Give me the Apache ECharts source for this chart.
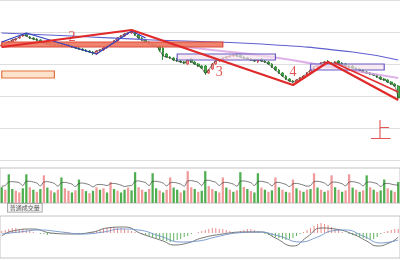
<!DOCTYPE html>
<html><head><meta charset="utf-8">
<script src="https://cdn.jsdelivr.net/npm/echarts@6.0.0/dist/echarts.min.js"></script>
<style>html,body{margin:0;padding:0;background:#fff}#c{width:400px;height:260px}</style>
</head><body><div id="c"></div>
<script>
// ---- price data (arbitrary units) ----
const openP = [114,115,116,118,120,122,124,126,123,122, 121,120,118,117,116,114,117,115,114,116,
 114,113,112,111,110,109,108,106,109,110, 112,114,116,119,122,124,126,127,129,125,
 122,120,118,116,115,114,112,106,103,102, 101,99,98,96,101,98,96,94,94,87,
 91,96,99,100,102,103,104,106,105,103, 102,101,100,98,101,99,98,96,93,90,
 87,84,81,79,77,80,82,84,87,90, 93,95,97,99,97,95,99,97,96,94,
 94,92,91,90,88,87,86,85,83,81, 80,78,76,74];
const closeP = [115,116,118,120,121,123,125,124,122,121, 120,118,117,116,115,116,115,114,115,114,
 113,112,111,110,109,108,107,109,110,112, 114,116,119,122,124,126,127,128,125,122,
 120,118,116,115,114,110,104,103,102,100, 99,98,97,100,98,96,94,92,87,90,
 96,99,100,102,103,104,105,104,103,102, 101,100,99,100,99,98,96,93,90,87,
 84,81,79,78,80,82,84,87,90,93, 95,97,98,97,96,98,97,95,94,93,
 92,91,90,88,87,86,85,83,81,80, 78,76,74,62];
const highP = [116,117,119,121,122,124,126,127,124,123, 122,121,119,118,117,117,118,116,116,117,
 115,114,113,112,111,110,109,110,111,113, 115,117,120,123,125,127,128,130,130,126,
 123,121,119,117,116,115,114,107,104,103, 102,100,99,101,102,99,97,95,95,91,
 97,100,101,103,104,105,106,107,106,104, 103,102,101,101,102,100,99,97,94,91,
 88,85,82,80,81,83,85,88,91,94, 96,98,99,100,98,99,100,98,97,95,
 95,93,92,91,89,88,87,86,84,82, 81,79,77,75];
const lowP = [113,114,115,117,119,121,123,123,121,120, 119,117,116,115,114,113,114,113,113,113,
 112,111,110,109,108,107,105,105,108,109, 111,113,115,118,121,123,125,126,124,121,
 119,117,115,114,113,108,100,102,101,99, 98,97,96,95,97,95,93,91,85,86,
 90,95,98,99,101,102,103,103,102,101, 100,99,98,97,98,97,95,92,89,86,
 83,80,78,77,76,79,81,83,86,89, 92,94,96,96,95,94,96,94,93,92,
 91,90,89,87,86,85,84,82,80,79, 77,75,73,60];
const categories = openP.map((_, i) => 'D' + (i + 1));

// moving-average lines as [barIndex, value] points
const maLong = [[0,127],[20,124],[43,120],[74,116],[100,108],[113,100]];
const maMid = [[40,118],[60,110],[77,103],[94,93],[113,82]];

// hand-drawn annotations (data coordinates)
const blueZigzag = [[0,118],[7,127],[27,106],[37,129],[41,122]];
const redTrend = [[0,113],[37,130],[83,75],[93,98],[113,60]];
const redTrend2 = [[95,97],[113,68]];
const salmonBand = [[0,118],[63,113]];
const orangeBox = [[0,89],[15,82]];
const purpleBoxes = [[[50,106],[78,100]], [[88,96],[109,90]]];
const noteText = ['2','3','4','上'];
const noteX = [20,62,83,108];
const noteY = [123,88,88,30];

// ---- volume ----
const volume = [45,38,82,40,35,30,42,82,45,38, 32,40,79,44,36,30,38,73,42,35,
 30,36,67,40,34,28,35,45,38,42, 30,60,40,35,30,38,44,36,88,45,
 38,32,40,85,42,36,30,38,73,44, 38,30,36,91,45,40,32,35,91,48,
 40,34,30,73,44,38,32,36,88,46, 40,34,30,85,44,38,32,36,73,45,
 38,32,30,67,42,36,32,38,40,85, 44,38,32,36,79,45,38,32,36,82,
 44,38,32,36,79,45,38,32,36,67, 42,36,32,60];
const volSide = ("grggrrggrg"+"rgrgrgrgrr"+"grgrgrgrgr"+"grgrggrggr"+"rgrggrgrrg"+
 "grgrrgrggr"+"rgrrgrgrgr"+"grggrgrgrg"+"rgrrgrgrgr"+"grgrrgrgrr"+"grgrgrgrgg"+"rgrg").split('');
const volMa = [48,50,60,61,60,58,50,62,62,60, 57,49,60,61,59,56,48,58,59,57,
 54,47,56,57,55,52,46,52,53,52, 50,55,56,54,51,47,49,50,62,63,
 61,58,50,62,62,60,57,49,58,59, 57,54,48,63,64,62,59,50,64,65,
 62,59,50,58,59,57,54,48,62,63, 61,58,50,61,62,60,57,49,58,59,
 56,53,47,55,56,54,51,48,50,61, 62,60,57,50,59,60,58,55,49,60,
 61,59,56,49,59,60,58,55,47,55, 56,54,52,51];

// ---- MACD ----
const difPts = [[0,-3],[3,2],[9,4],[14,0],[20,-1],[26,1],[30,5],[35,6],[40,-1],[46,-8],[49,-12],[53,-10],
 [57,-5],[63,-1],[69,1],[74,1],[78,-5],[83,-13],[87,-4],[91,5],[95,4],[100,-1],[104,-8],[107,-13],[111,-9],[113,-4]];
const deaPts = [[0,-1],[5,1],[11,3],[17,1],[23,-1],[29,1],[34,4],[39,3],[45,-3],[51,-9],[56,-8],[61,-4],
 [67,0],[73,1],[79,-3],[85,-9],[90,-4],[94,2],[98,3],[103,-3],[108,-10],[113,-7]];
const macdHist = [2,3,4,5,5,4,4,3,2,1, 0,-1,-1,-2,-1,-1,0,0,1,1,
 0,0,-1,-1,0,1,1,2,3,4, 5,6,6,5,5,4,3,2,1,0,
 -1,-2,-3,-4,-5,-6,-7,-8,-9,-8, -7,-6,-4,-3,-1,0,1,2,3,4,
 5,5,4,4,3,2,1,1,2,3, 4,4,3,2,0,-1,-2,-3,-4,-5,
 -6,-7,-6,-5,-3,-1,1,3,5,7, 9,10,9,8,6,4,3,1,0,-1,
 -2,-3,-4,-5,-6,-7,-6,-4,-1,1, 2,3,4,4];

const UP = '#f19a9a', DOWN = '#4fae4f';
const chart = echarts.init(document.getElementById('c'), null, {renderer: 'canvas'});

const candles = openP.map((o, i) => [o, closeP[i], lowP[i], highP[i]]);
const rectArea = (r, fill, border) => [{xAxis: categories[r[0][0]], yAxis: r[0][1],
  itemStyle: {color: fill, borderColor: border, borderWidth: 1.2}}, {xAxis: categories[r[1][0]], yAxis: r[1][1]}];

const xBase = (g) => ({type: 'category', data: categories, gridIndex: g, boundaryGap: true, show: false});
const option = {
  animation: false,
  backgroundColor: '#fff',
  grid: [
    {left: 0, right: 0, top: 0, height: 160},
    {left: -1, right: -1, top: 168, height: 35, show: true, borderColor: '#c4c4c4', borderWidth: 1},
    {left: -1, right: -1, top: 216, height: 42, show: true, borderColor: '#c4c4c4', borderWidth: 1}
  ],
  xAxis: [xBase(0), xBase(1), xBase(2)],
  yAxis: [
    {type: 'value', gridIndex: 0, min: 0, max: 160, interval: 32, axisLabel: {show: false},
     axisLine: {show: false}, axisTick: {show: false}, splitLine: {lineStyle: {color: '#dedede', width: 1}}},
    {type: 'value', gridIndex: 1, min: 0, max: 100, show: false, splitLine: {show: false}},
    {type: 'value', gridIndex: 2, min: -25, max: 17, show: false, splitLine: {show: false}}
  ],
  graphic: [{
    type: 'text', left: 7, top: 203,
    style: {text: '普通成交量', fontSize: 6, fill: '#555', fontFamily: 'Noto Sans CJK SC',
      backgroundColor: '#f4f4f4', borderColor: '#999', borderWidth: 0.8, padding: [1, 2]}
  }],
  series: [
    {type: 'candlestick', xAxisIndex: 0, yAxisIndex: 0, data: candles, barWidth: '60%',
     itemStyle: {color: UP, color0: DOWN, borderColor: '#d9534f', borderColor0: '#2e8b32', borderWidth: 0.9}},
    {type: 'line', xAxisIndex: 0, yAxisIndex: 0, data: closeP, symbol: 'none', smooth: 0.3,
     lineStyle: {color: '#333', width: 0.7}, z: 3,
     markArea: {silent: true, z: 4, data: [
       rectArea(salmonBand, 'rgba(238,120,95,0.9)', '#d94a3a'),
       rectArea(orangeBox, '#fde3cc', '#e8703e'),
       rectArea(purpleBoxes[0], 'rgba(245,225,235,0.7)', '#6a5ac8'),
       rectArea(purpleBoxes[1], 'rgba(245,225,235,0.7)', '#6a5ac8')
     ]}},
    {type: 'line', xAxisIndex: 0, yAxisIndex: 0, data: maLong, symbol: 'none', smooth: true,
     lineStyle: {color: '#6060d0', width: 1.1}},
    {type: 'line', xAxisIndex: 0, yAxisIndex: 0, data: maMid, symbol: 'none', smooth: true,
     lineStyle: {color: '#d8a4e4', width: 2.2, opacity: 0.85}},
    {type: 'line', xAxisIndex: 0, yAxisIndex: 0, data: blueZigzag, symbol: 'none',
     lineStyle: {color: '#2f3fc0', width: 1.3}, z: 5},
    {type: 'line', xAxisIndex: 0, yAxisIndex: 0, data: redTrend, symbol: 'none',
     lineStyle: {color: '#e02828', width: 2.2}, z: 6},
    {type: 'line', xAxisIndex: 0, yAxisIndex: 0, data: redTrend2, symbol: 'none',
     lineStyle: {color: '#e03030', width: 1.6}, z: 6},
    {type: 'scatter', xAxisIndex: 0, yAxisIndex: 0, symbolSize: 0, z: 7,
     data: noteText.map((t, i) => ({value: [noteX[i], noteY[i]], name: t,
       label: t === '上' ? {fontSize: 22, fontFamily: 'Noto Sans CJK SC', fontWeight: 300} : {}})),
     label: {show: true, position: 'inside', formatter: p => p.name, color: '#d92a2a',
       fontFamily: 'Liberation Serif', fontSize: 14}},
    {type: 'bar', xAxisIndex: 1, yAxisIndex: 1, barWidth: '65%',
     data: volume.map((v, i) => ({value: v, itemStyle: {color: volSide[i] === 'r' ? UP : DOWN}}))},
    {type: 'line', xAxisIndex: 1, yAxisIndex: 1, data: volMa, symbol: 'none', smooth: 0.4,
     lineStyle: {color: '#444', width: 0.7}},
    {type: 'bar', xAxisIndex: 2, yAxisIndex: 2, barWidth: 1,
     data: macdHist.map(v => ({value: v, itemStyle: {color: v >= 0 ? '#e98a8a' : '#5db35d'}}))},
    {type: 'line', xAxisIndex: 2, yAxisIndex: 2, data: difPts, symbol: 'none', smooth: true,
     lineStyle: {color: '#666', width: 0.9}},
    {type: 'line', xAxisIndex: 2, yAxisIndex: 2, data: deaPts, symbol: 'none', smooth: true,
     lineStyle: {color: '#6f93c9', width: 0.9}}
  ]
};
chart.setOption(option);
</script></body></html>
